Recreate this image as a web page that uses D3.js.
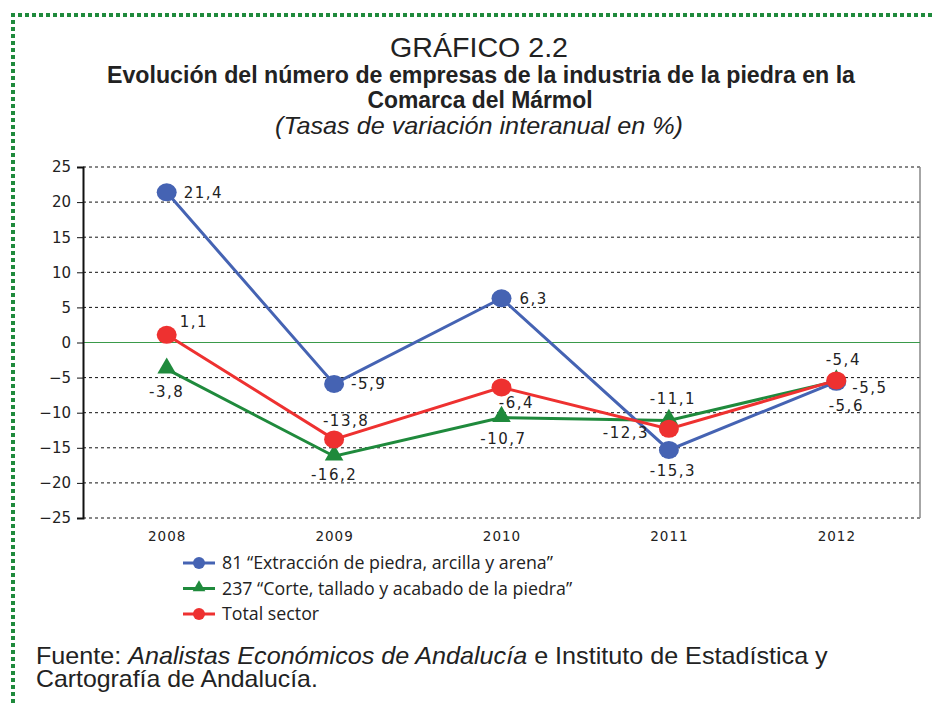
<!DOCTYPE html>
<html>
<head>
<meta charset="utf-8">
<script src="https://cdn.jsdelivr.net/npm/d3@7"></script>
<style>
body { margin: 0; background: #fff; }
svg { display: block; }
</style>
</head>
<body>
<script>
var years = ["2008", "2009", "2010", "2011", "2012"];
var extraccion = [21.4, -5.9, 6.3, -15.3, -5.6];
var corte = [-3.8, -16.2, -10.7, -11.1, -5.5];
var total = [1.1, -13.8, -6.4, -12.3, -5.4];
var yTicks = [25, 20, 15, 10, 5, 0, -5, -10, -15, -20, -25];
var nombres = ["81 \u201cExtracci\u00f3n de piedra, arcilla y arena\u201d",
    "237 \u201cCorte, tallado y acabado de la piedra\u201d",
    "Total sector"];

// desplazamiento de cada etiqueta: [dx, dy, anclaje]
var series = [
    {nombre: nombres[0], valores: extraccion, color: "#4563b3", forma: "circulo",
     pos: [[17, 6, "start"], [17, 5, "start"], [18, 6, "start"], [4, 26, "middle"], [10, 29, "middle"]]},
    {nombre: nombres[1], valores: corte, color: "#1f8a3c", forma: "triangulo",
     pos: [[0, 28, "middle"], [0, 24, "middle"], [2, 26, "middle"], [4, -16, "middle"], [16, 12, "start"]]},
    {nombre: nombres[2], valores: total, color: "#ee3130", forma: "circulo",
     pos: [[13, -8, "start"], [12, -13, "middle"], [15, 21, "middle"], [-43, 9, "middle"], [7, -15, "middle"]]}
];

var W = 934, H = 703;
var svg = d3.select("body").append("svg").attr("width", W).attr("height", H);

// marco verde punteado
svg.append("path")
    .attr("d", "M13,703 L13,15 L934,15")
    .attr("fill", "none")
    .attr("stroke", "#1f8a3c")
    .attr("stroke-width", 4)
    .attr("stroke-dasharray", "4,3");

var cond = "'Liberation Sans', Arial, sans-serif";

function titulo(texto, xc, yb, size, ancho, estilo) {
    var t = svg.append("text").attr("x", xc).attr("y", yb).attr("text-anchor", "middle")
        .attr("textLength", ancho).attr("lengthAdjust", "spacingAndGlyphs")
        .style("font-family", cond).style("font-size", size + "px").attr("fill", "#222")
        .text(texto);
    if (estilo == "b") t.style("font-weight", "bold");
    if (estilo == "i") t.style("font-style", "italic");
    return t;
}

titulo("GR\u00c1FICO  2.2", 479, 57, 28, 178, "");
titulo("Evoluci\u00f3n del n\u00famero de empresas de la industria de la piedra en la", 481, 83, 23.5, 748, "b");
titulo("Comarca del M\u00e1rmol", 480, 108, 23.5, 225, "b");
titulo("(Tasas de variaci\u00f3n interanual en %)", 479, 134, 24, 408, "i");

var izq = 83, der = 920, arriba = 167, abajo = 518;
var x = d3.scalePoint().domain(years).range([izq, der]).padding(0.5);
var y = d3.scaleLinear().domain([-25, 25]).range([abajo, arriba]);

// rejilla
svg.append("g").selectAll("line").data(yTicks.filter(function(d) { return d != 0; }))
    .enter().append("line")
    .attr("x1", izq).attr("x2", der)
    .attr("y1", function(d) { return y(d); }).attr("y2", function(d) { return y(d); })
    .attr("stroke", "#111").attr("stroke-width", 1).attr("stroke-dasharray", "3,3");

svg.append("line").attr("x1", der).attr("x2", der).attr("y1", arriba).attr("y2", abajo)
    .attr("stroke", "#888").attr("stroke-width", 1.5);
svg.append("line").attr("x1", izq).attr("x2", der).attr("y1", y(0)).attr("y2", y(0))
    .attr("stroke", "#3a9a4a").attr("stroke-width", 1.2);

var ejeY = svg.append("g").attr("transform", "translate(" + izq + ",0)")
    .call(d3.axisLeft(y).tickValues(yTicks).tickSize(6).tickPadding(6));
ejeY.select(".domain").attr("stroke", "#111").attr("stroke-width", 2);
ejeY.selectAll(".tick line").attr("stroke", "#111");
ejeY.selectAll("text").style("font-family", "'DejaVu Sans', sans-serif").style("font-size", "15px")
    .attr("fill", "#222");

var ejeX = svg.append("g").attr("transform", "translate(0," + abajo + ")")
    .call(d3.axisBottom(x).tickSize(0).tickPadding(13));
ejeX.select(".domain").remove();
ejeX.selectAll("text").style("font-family", "'DejaVu Sans', sans-serif").style("font-size", "13.5px")
    .style("letter-spacing", "1px").attr("fill", "#222");

var linea = d3.line().x(function(d, i) { return x(years[i]); }).y(function(d) { return y(d); });
var tri = d3.symbol().type(d3.symbolTriangle).size(150);

function marcador(g, s, cx, cy) {
    if (s.forma == "circulo") {
        g.append("ellipse").attr("cx", cx).attr("cy", cy).attr("rx", 10).attr("ry", 9).attr("fill", s.color);
    } else {
        g.append("path").attr("d", tri).attr("transform", "translate(" + cx + "," + (cy - 1) + ")").attr("fill", s.color);
    }
}

var orden = [1, 0, 2];
orden.forEach(function(k) {
    var s = series[k];
    var g = svg.append("g");
    g.append("path").attr("d", linea(s.valores)).attr("fill", "none")
        .attr("stroke", s.color).attr("stroke-width", 3);
    s.valores.forEach(function(v, i) {
        marcador(g, s, x(years[i]), y(v));
    });
});

orden.forEach(function(k) {
    var s = series[k];
    s.valores.forEach(function(v, i) {
        var p = s.pos[i];
        svg.append("text")
            .attr("x", x(years[i]) + p[0]).attr("y", y(v) + p[1])
            .attr("text-anchor", p[2])
            .style("font-family", "'DejaVu Sans', sans-serif").style("font-size", "15px")
            .style("letter-spacing", "1.5px").attr("fill", "#222")
            .text(String(v).replace(".", ","));
    });
});

// leyenda
var leg = svg.append("g").attr("transform", "translate(183,563)");
series.forEach(function(s, i) {
    var g = leg.append("g").attr("transform", "translate(0," + (i * 25.5) + ")");
    g.append("line").attr("x1", 0).attr("x2", 32).attr("y1", 0).attr("y2", 0)
        .attr("stroke", s.color).attr("stroke-width", 3);
    if (s.forma == "circulo") {
        g.append("circle").attr("cx", 16).attr("cy", 0).attr("r", 6).attr("fill", s.color);
    } else {
        g.append("path").attr("d", d3.symbol().type(d3.symbolTriangle).size(70))
            .attr("transform", "translate(16,-1)").attr("fill", s.color);
    }
    g.append("text").attr("x", 39).attr("y", 6)
        .style("font-family", "'Open Sans', sans-serif").style("font-size", "17.8px").attr("fill", "#222")
        .text(s.nombre);
});

// fuente: se escala en horizontal hasta el ancho del original
function ajusta(t, ancho, x0, yb) {
    var w = t.node().getComputedTextLength();
    t.attr("transform", "translate(" + x0 + "," + yb + ") scale(" + (ancho / w) + ",1)");
}
var fuente = svg.append("text")
    .style("font-family", cond).style("font-size", "23px").attr("fill", "#222");
fuente.append("tspan").text("Fuente: ");
fuente.append("tspan").style("font-style", "italic").text("Analistas Econ\u00f3micos de Andaluc\u00eda");
fuente.append("tspan").text(" e Instituto de Estad\u00edstica y");
ajusta(fuente, 792, 36, 664);
var fuente2 = svg.append("text")
    .style("font-family", cond).style("font-size", "23px").attr("fill", "#222")
    .text("Cartograf\u00eda de Andaluc\u00eda.");
ajusta(fuente2, 282, 36, 687);
</script>
</body>
</html>
